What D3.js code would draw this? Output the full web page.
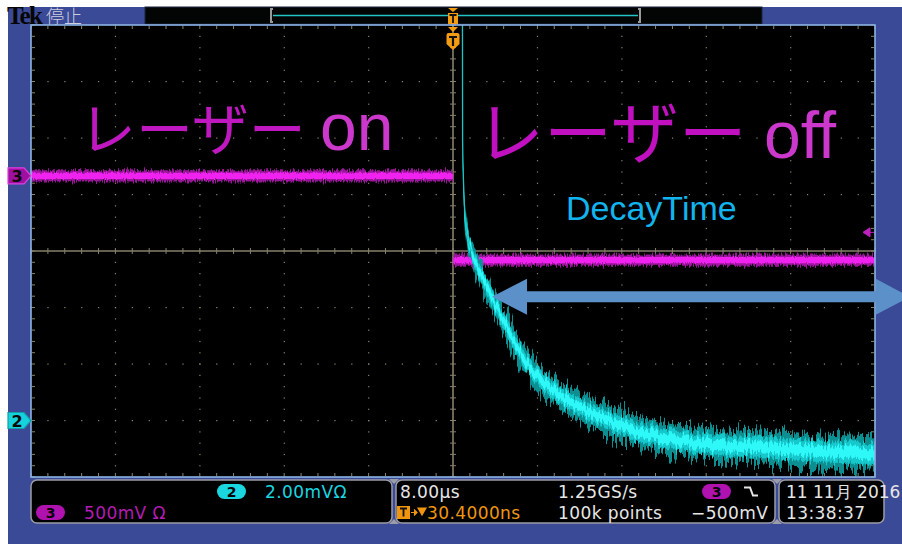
<!DOCTYPE html>
<html>
<head>
<meta charset="utf-8">
<script src="https://cdn.jsdelivr.net/npm/d3@7"></script>
<style>
  body { margin: 0; background: #fff; }
  svg { display: block; }
</style>
</head>
<body>
<script>
'use strict';

// scope setup
var timeDomain = [-40, 40];   // µs  (8.00µs/div, 10 div)
var divDomain = [-4, 4];      // vertical divisions
var ch2Scale = 2.0;           // mV/div
var ch2Pos = -3.0;            // div
var ch3Scale = 500;           // mV/div
var ch3Pos = 1.33;            // div
var trigLevel = -500;         // mV on ch3

// ch2: photodiode decay (µs, mV), plus noise half-width
var ch2Time  = [0.891, 0.910, 1.024, 1.185, 1.422, 1.754, 2.512, 3.507, 4.739, 6.066,
                7.583, 9.194, 12.32, 15.55, 18.67, 23.41, 29.10, 33.84, 40.10];
var ch2Volt  = [15.59, 9.93, 8.16, 7.10, 6.39, 6.00, 5.26, 4.48, 3.56, 2.60,
                1.72, 1.15, 0.41, -0.12, -0.51, -0.80, -0.97, -1.08, -1.19];
var ch2Noise = [0.30, 0.32, 0.36, 0.40, 0.42, 0.44, 0.46, 0.46, 0.46, 0.46,
                0.47, 0.48, 0.50, 0.52, 0.54, 0.56, 0.58, 0.60, 0.62];

// ch3: laser drive
var ch3OnTime  = [-40, 0];
var ch3OnVolt  = [0, 0];
var ch3OffTime = [0.02, 40];
var ch3OffVolt = [-745, -745];
var ch3Noise = 50; // mV

// annotations
var arrowSpan = [3.7, 43.3];  // µs
var arrowLevel = -0.81;       // div

// readouts
var ch2Readout = ['2', '2.00mVΩ'];
var ch3Readout = ['3', '500mV Ω'];
var timeReadout = ['8.00µs', '30.4000ns'];
var rateReadout = ['1.25GS/s', '100k points'];
var trigReadout = ['3', '−500mV'];
var dateReadout = ['11 11月 2016', '13:38:37'];

var W = 902, H = 544;
var L = 31, R = 875, T = 25, B = 477;

var x = d3.scaleLinear().domain(timeDomain).range([L, R]);
var y = d3.scaleLinear().domain(divDomain).range([B, T]);
var ch2Div = function (v) { return v / ch2Scale + ch2Pos; };
var ch3Div = function (v) { return v / ch3Scale + ch3Pos; };

var svg = d3.select('body').append('svg')
  .attr('width', W).attr('height', H);

var defs = svg.append('defs');
defs.append('clipPath').attr('id', 'plotClip')
  .append('rect').attr('x', L).attr('y', T).attr('width', R - L).attr('height', B - T);

function jitter (id, seed, scale, freq) {
  var f = defs.append('filter').attr('id', id)
    .attr('filterUnits', 'userSpaceOnUse')
    .attr('x', 0).attr('y', 0).attr('width', W).attr('height', H);
  f.append('feTurbulence').attr('type', 'fractalNoise')
    .attr('baseFrequency', freq).attr('numOctaves', 2)
    .attr('seed', seed).attr('result', 't');
  f.append('feColorMatrix').attr('in', 't').attr('type', 'matrix')
    .attr('values', '0 0 0 0 0.5  0 1 0 0 0  0 0 1 0 0  0 0 0 0 1')
    .attr('result', 'n');
  f.append('feDisplacementMap').attr('in', 'SourceGraphic').attr('in2', 'n')
    .attr('scale', scale).attr('xChannelSelector', 'R').attr('yChannelSelector', 'G');
}
jitter('haloNoise', 3, 34, '0.5 0.012');
jitter('coreNoise', 11, 16, '0.5 0.015');
jitter('magHalo', 7, 9, '0.9 0.05');
jitter('magCore', 5, 4, '0.9 0.05');

// frame
svg.append('rect').attr('width', W).attr('height', H).attr('fill', '#fff');
svg.append('rect').attr('x', 8).attr('y', 7).attr('width', W - 8).attr('height', H - 7)
  .attr('fill', '#3b4a96');

// top bar
svg.append('text').attr('x', 7).attr('y', 24)
  .attr('font-family', 'Liberation Serif').attr('font-weight', 'bold')
  .attr('font-size', 25).attr('letter-spacing', -1.8).attr('fill', '#050505')
  .text('Tek');
svg.append('text').attr('x', 46).attr('y', 23)
  .attr('font-family', 'Noto Sans CJK JP').attr('font-weight', 300)
  .attr('font-size', 18).attr('fill', '#cfcfe0')
  .text('停止');
svg.append('rect').attr('x', 145).attr('y', 7).attr('width', 617).attr('height', 17)
  .attr('fill', '#020503').attr('stroke', '#1c2540').attr('stroke-width', 1);
svg.append('line').attr('x1', 273).attr('x2', 638).attr('y1', 15.5).attr('y2', 15.5)
  .attr('stroke', '#22c4c4').attr('stroke-width', 1.5);
svg.append('path').attr('d', 'M273,9 h-2 v13 h2 M638,9 h2 v13 h-2')
  .attr('fill', 'none').attr('stroke', '#9a9a9a').attr('stroke-width', 2);

// plot area
svg.append('rect').attr('x', L).attr('y', T).attr('width', R - L).attr('height', B - T)
  .attr('fill', '#000');

var grid = svg.append('g').attr('fill', '#8a876a');
var minorT = d3.range(timeDomain[0], timeDomain[1] + 0.001, 1.6);
var minorD = d3.range(divDomain[0], divDomain[1] + 0.001, 0.2);
var majorT = d3.range(-32, 33, 8).filter(function (v) { return v !== 0; });
var majorD = d3.range(-3, 4, 1).filter(function (v) { return v !== 0; });

majorT.forEach(function (t) {
  grid.selectAll(null).data(minorD).enter().append('rect')
    .attr('x', x(t) - 0.5).attr('y', function (d) { return y(d) - 0.5; })
    .attr('width', 1.2).attr('height', 1.2);
});
majorD.forEach(function (dv) {
  grid.selectAll(null).data(minorT).enter().append('rect')
    .attr('x', function (d) { return x(d) - 0.5; }).attr('y', y(dv) - 0.5)
    .attr('width', 1.2).attr('height', 1.2);
});

// border ticks
var ticks = svg.append('g').attr('stroke', '#8a876a').attr('stroke-width', 1);
ticks.selectAll(null).data(minorT).enter().append('path')
  .attr('d', function (d) { return 'M' + x(d) + ',' + (T + 1) + 'v3M' + x(d) + ',' + (B - 1) + 'v-3'; });
ticks.selectAll(null).data(minorD).enter().append('path')
  .attr('d', function (d) { return 'M' + (L + 1) + ',' + y(d) + 'h3M' + (R - 1) + ',' + y(d) + 'h-3'; });

// centre cross
var cross = svg.append('g').attr('stroke', '#85816b');
cross.append('line').attr('x1', L).attr('x2', R).attr('y1', y(0)).attr('y2', y(0))
  .attr('stroke-width', 1.6);
cross.append('line').attr('x1', x(0)).attr('x2', x(0)).attr('y1', T).attr('y2', B)
  .attr('stroke-width', 1.6);
cross.selectAll(null).data(minorT).enter().append('line')
  .attr('x1', function (d) { return x(d); }).attr('x2', function (d) { return x(d); })
  .attr('y1', y(0) - 3).attr('y2', y(0) + 3);
cross.selectAll(null).data(minorD).enter().append('line')
  .attr('y1', function (d) { return y(d); }).attr('y2', function (d) { return y(d); })
  .attr('x1', x(0) - 3).attr('x2', x(0) + 3);

// traces
var traces = svg.append('g').attr('clip-path', 'url(#plotClip)');

function band (pts, div, k) {
  return d3.area().curve(d3.curveMonotoneX)
    .x(function (d) { return x(d.t); })
    .y0(function (d) { return y(div(d.v - k * d.n)); })
    .y1(function (d) { return y(div(d.v + k * d.n)); })(pts);
}

var ch3On = ch3OnTime.map(function (t, i) { return {t: t, v: ch3OnVolt[i], n: ch3Noise}; });
var ch3Off = ch3OffTime.map(function (t, i) { return {t: t, v: ch3OffVolt[i], n: ch3Noise}; });
[ch3On, ch3Off].forEach(function (pts) {
  traces.append('path').attr('d', band(pts, ch3Div, 1)).attr('fill', '#9a129a')
    .attr('filter', 'url(#magHalo)');
  traces.append('path').attr('d', band(pts, ch3Div, 0.55)).attr('fill', '#f020f0')
    .attr('filter', 'url(#magCore)');
});

var ch2 = ch2Time.map(function (t, i) { return {t: t, v: ch2Volt[i], n: ch2Noise[i]}; });
traces.append('path').attr('d', band(ch2, ch2Div, 1)).attr('fill', '#0b8f92')
  .attr('filter', 'url(#haloNoise)');
traces.append('path').attr('d', band(ch2, ch2Div, 0.62)).attr('fill', '#12c8cc')
  .attr('filter', 'url(#coreNoise)');
traces.append('path').attr('d', band(ch2, ch2Div, 0.32)).attr('fill', '#2ef8f8')
  .attr('filter', 'url(#coreNoise)');
traces.append('path')
  .attr('d', d3.line().curve(d3.curveMonotoneX)
    .x(function (d) { return x(d.t); })
    .y(function (d) { return y(ch2Div(d.v)); })(ch2.slice(0, 6)))
  .attr('fill', 'none').attr('stroke', '#1cc4c4').attr('stroke-width', 1.3);

// trigger level marker (ch3)
var ty = y(ch3Div(trigLevel));
svg.append('path').attr('d', 'M' + (R - 12) + ',' + ty + 'l7,-4.5v9z M' + (R - 5) + ',' + ty + 'h5')
  .attr('fill', '#c020c0').attr('stroke', '#c020c0').attr('stroke-width', 1);

// plot border
svg.append('rect').attr('x', L).attr('y', T).attr('width', R - L).attr('height', B - T)
  .attr('fill', 'none').attr('stroke', '#8db3e4').attr('stroke-width', 1.6);

// trigger position markers
var tx = x(0);
svg.append('path')
  .attr('d', 'M' + (tx - 5) + ',8h10l-5,4z M' + (tx - 5) + ',13h10v11h-10z')
  .attr('fill', '#f39c12');
svg.append('path').attr('d', 'M' + (tx - 3.5) + ',15h7M' + tx + ',15v8')
  .attr('stroke', '#111').attr('stroke-width', 1.8);
svg.append('path')
  .attr('d', 'M' + (tx - 5) + ',27h10l-5,5z M' + (tx - 6.5) + ',35 q0,-2 2,-2 h9 q2,0 2,2 v9 l-6.5,6 l-6.5,-6z')
  .attr('fill', '#f39c12');
svg.append('path').attr('d', 'M' + (tx - 4) + ',37h8M' + tx + ',37v9')
  .attr('stroke', '#111').attr('stroke-width', 2.2);

// channel ground markers
function chMarker (yy, label, fill, stroke) {
  svg.append('path')
    .attr('d', 'M8,' + (yy - 8) + 'h16l7,8l-7,8h-16z')
    .attr('fill', fill).attr('stroke', stroke).attr('stroke-width', 1.2);
  svg.append('text').attr('x', 17).attr('y', yy + 6)
    .attr('text-anchor', 'middle').attr('font-family', 'DejaVu Sans').attr('font-weight', 'bold')
    .attr('font-size', 16).attr('fill', '#0a0a0a').text(label);
}
chMarker(y(ch3Pos), '3', '#a0109e', '#e040e0');
chMarker(y(ch2Pos), '2', '#16d2dc', '#0fa0a8');

// annotations
svg.append('text').attr('x', 79).attr('y', 150)
  .attr('font-family', 'Noto Sans CJK JP').attr('font-size', 57).attr('fill', '#c018c0')
  .text('レーザー');
svg.append('text').attr('x', 320).attr('y', 150)
  .attr('font-family', 'Liberation Sans').attr('font-size', 66).attr('fill', '#cc38cc')
  .text('on');
svg.append('text').attr('x', 476).attr('y', 158)
  .attr('font-family', 'Noto Sans CJK JP').attr('font-size', 68).attr('fill', '#c010c0')
  .text('レーザー');
svg.append('text').attr('x', 764).attr('y', 158)
  .attr('font-family', 'Liberation Sans').attr('font-size', 66).attr('fill', '#cc38cc')
  .text('off');
svg.append('text').attr('x', 566).attr('y', 220)
  .attr('font-family', 'Liberation Sans').attr('font-size', 34).attr('fill', '#12b4ee')
  .text('DecayTime');

var ay = y(arrowLevel), ax0 = x(arrowSpan[0]), ax1 = x(arrowSpan[1]);
svg.append('path')
  .attr('d', 'M' + ax0 + ',' + ay + 'l35,-18v12.5H' + (ax1 - 34) + 'v-12.5l34,18l-34,18v-12.5H' + (ax0 + 35) + 'v12.5z')
  .attr('fill', '#5b90c8');

// readout panels
function panel (x0, x1) {
  svg.append('rect').attr('x', x0).attr('y', 480).attr('width', x1 - x0).attr('height', 43)
    .attr('rx', 6).attr('fill', '#000').attr('stroke', '#9c9ca6').attr('stroke-width', 1.5);
}
panel(31, 392);
panel(396, 775);
panel(779, 884);
[394, 777].forEach(function (cx) {
  svg.append('path').attr('d', 'M' + (cx - 5) + ',479h10l-5,5zM' + (cx - 5) + ',524h10l-5,-5z')
    .attr('fill', '#9c9ca6');
});

var fontR = 'DejaVu Sans';
function readout (xx, yy, str, fill) {
  svg.append('text').attr('x', xx).attr('y', yy)
    .attr('font-family', fontR).attr('font-size', 17).attr('letter-spacing', 0.4)
    .attr('fill', fill).text(str);
}
function pill (x0, yy, label, fill) {
  svg.append('rect').attr('x', x0).attr('y', yy - 13).attr('width', 29).attr('height', 15)
    .attr('rx', 7.5).attr('fill', fill);
  svg.append('text').attr('x', x0 + 14.5).attr('y', yy)
    .attr('text-anchor', 'middle')
    .attr('font-family', fontR).attr('font-weight', 'bold').attr('font-size', 14)
    .attr('fill', '#050505').text(label);
}

pill(217, 497, ch2Readout[0], '#1ad6de');
readout(265, 498, ch2Readout[1], '#1ad6e0');
pill(36, 518, ch3Readout[0], '#b012b0');
readout(84, 519, ch3Readout[1], '#b41cb4');

readout(400, 498, timeReadout[0], '#e6e6e6');
svg.append('rect').attr('x', 397).attr('y', 506).attr('width', 13).attr('height', 13)
  .attr('fill', '#f0960e');
svg.append('path').attr('d', 'M400,508.5h7M403.5,508.5v8').attr('stroke', '#111').attr('stroke-width', 1.8);
svg.append('path').attr('d', 'M411,512.5h6M414,509.5l3,3l-3,3M418,508h8l-4,7z')
  .attr('fill', '#f0960e').attr('stroke', '#f0960e').attr('stroke-width', 1.2);
readout(427, 519, timeReadout[1], '#f0960e');

readout(558, 498, rateReadout[0], '#e6e6e6');
readout(558, 519, rateReadout[1], '#e6e6e6');
pill(702, 497, trigReadout[0], '#b012b0');
svg.append('path').attr('d', 'M744,487.5h6l3,8h5').attr('fill', 'none')
  .attr('stroke', '#e6e6e6').attr('stroke-width', 2);
readout(691, 519, trigReadout[1], '#e6e6e6');

svg.append('text').attr('x', 786).attr('y', 498)
  .attr('font-family', fontR).attr('font-size', 17).attr('fill', '#e6e6e6')
  .text(dateReadout[0]);
readout(786, 519, dateReadout[1], '#e6e6e6');
</script>
</body>
</html>
